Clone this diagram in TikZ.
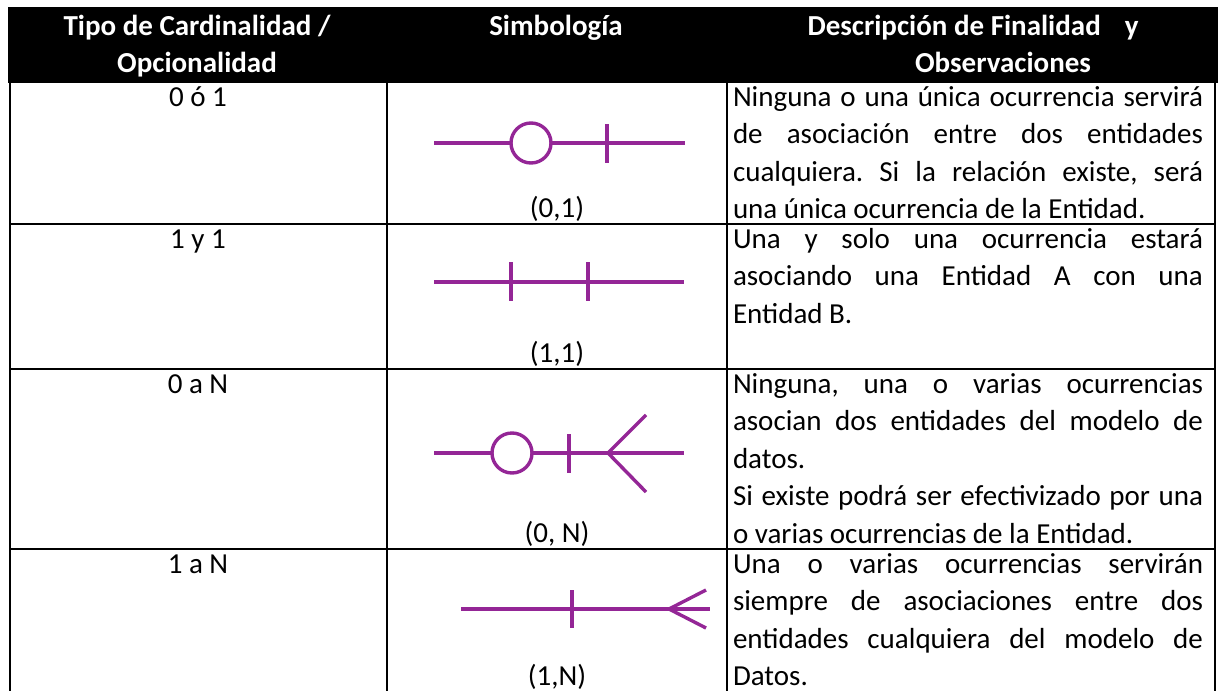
\documentclass[tikz,border=0pt]{standalone}
\usepackage{fontspec}
\setmainfont{Carlito}
\frenchspacing
\definecolor{erpurple}{RGB}{148,38,150}
\newlength\cw \setlength\cw{470pt}
\newcommand\jline[1]{\hbox to \cw{#1}}
\newcommand\lline[1]{\hbox to \cw{#1\hfil}}
\newcommand\celltext[1]{\vtop{\baselineskip=37.5pt #1}}
\begin{document}
\begin{tikzpicture}[x=1pt,y=-1pt,
  every node/.style={font=\fontsize{29}{37.5}\selectfont\frenchspacing, inner sep=0pt, outer sep=0pt},
  head/.style={font=\fontsize{29}{36}\selectfont\bfseries, text=white, anchor=base},
  grid/.style={line width=2.2pt, black},
  sym/.style={line width=3.4pt, erpurple},
  ring/.style={circle, draw=erpurple, line width=3.4pt, minimum size=40pt},
  desc/.style={anchor=base west}]
\useasboundingbox (0,0) rectangle (1218,691);
% header
\fill[black] (8,7) rectangle (1218,83);
\node[head] (h1a) at (197,35) {Tipo de Cardinalidad /};
\node[head] (h1b) at (197,72) {Opcionalidad};
\node[head] (h2) at (556,35) {Simbología};
\node[head] (h3a) at (973,35) {Descripción de Finalidad\hspace{24pt}y};
\node[head] (h3b) at (1003,72) {Observaciones};
% grid
\draw[grid] (10,82) -- (10,691);
\draw[grid] (387,82) -- (387,691);
\draw[grid] (727,82) -- (727,691);
\draw[grid] (1215,82) -- (1215,691);
\draw[grid] (10,224) -- (1216,224);
\draw[grid] (10,369) -- (1216,369);
\draw[grid] (10,549) -- (1216,549);
% column 1
\node[anchor=base] (k1) at (198,106) {0 ó 1};
\node[anchor=base] (k2) at (198,248) {1 y 1};
\node[anchor=base] (k3) at (198,393) {0 a N};
\node[anchor=base] (k4) at (198,573) {1 a N};
% column 2 labels
\node[anchor=base] (s1) at (557,217) {(0,1)};
\node[anchor=base] (s2) at (557,362) {(1,1)};
\node[anchor=base] (s3) at (557,542) {(0, N)};
\node[anchor=base] (s4) at (557,685) {(1,N)};
% symbol row 1 (0,1)
\coordinate (r1a) at (434,143);
\coordinate (r1b) at (685,143);
\node[ring] (r1c) at (531,143) {};
\coordinate (r1t1) at (607,124);
\coordinate (r1t2) at (607,163);
\draw[sym] (r1a) -- (r1c.west);
\draw[sym] (r1c.east) -- (r1b);
\draw[sym] (r1t1) -- (r1t2);
% symbol row 2 (1,1)
\coordinate (r2a) at (434,282);
\coordinate (r2b) at (684,282);
\coordinate (r2t1) at (511,262);
\coordinate (r2t2) at (511,301);
\coordinate (r2u1) at (588,262);
\coordinate (r2u2) at (588,301);
\draw[sym] (r2a) -- (r2b);
\draw[sym] (r2t1) -- (r2t2);
\draw[sym] (r2u1) -- (r2u2);
% symbol row 3 (0,N)
\coordinate (r3a) at (434,453);
\coordinate (r3b) at (684,453);
\node[ring] (r3c) at (512,453) {};
\coordinate (r3t1) at (569,434);
\coordinate (r3t2) at (569,473);
\coordinate (r3v) at (608,453);
\coordinate (r3p1) at (646,415);
\coordinate (r3p2) at (646,492);
\draw[sym] (r3a) -- (r3c.west);
\draw[sym] (r3c.east) -- (r3b);
\draw[sym] (r3t1) -- (r3t2);
\draw[sym] (r3p1) -- (r3v) -- (r3p2);
% symbol row 4 (1,N)
\coordinate (r4a) at (461,609);
\coordinate (r4b) at (710,609);
\coordinate (r4t1) at (572,590);
\coordinate (r4t2) at (572,628);
\coordinate (r4v) at (669,609);
\coordinate (r4p1) at (706,590);
\coordinate (r4p2) at (706,628);
\draw[sym] (r4a) -- (r4b);
\draw[sym] (r4t1) -- (r4t2);
\draw[sym] (r4p1) -- (r4v) -- (r4p2);
% column 3
\node[desc] (d1) at (733,106) {\celltext{%
  \jline{Ninguna o una única ocurrencia servirá}
  \jline{de asociación entre dos entidades}
  \jline{cualquiera. Si la relación existe, será}
  \lline{una única ocurrencia de la Entidad.}}};
\node[desc] (d2) at (733,248) {\celltext{%
  \jline{Una y solo una ocurrencia estará}
  \jline{asociando una Entidad A con una}
  \lline{Entidad B.}}};
\node[desc] (d3) at (733,393) {\celltext{%
  \jline{Ninguna, una o varias ocurrencias}
  \jline{asocian dos entidades del modelo de}
  \lline{datos.}
  \jline{Si existe podrá ser efectivizado por una}
  \lline{o varias ocurrencias de la Entidad.}}};
\node[desc] (d4) at (733,573) {\celltext{%
  \jline{Una o varias ocurrencias servirán}
  \jline{siempre de asociaciones entre dos}
  \jline{entidades cualquiera del modelo de}
  \lline{Datos.}}};
\end{tikzpicture}
\end{document}
